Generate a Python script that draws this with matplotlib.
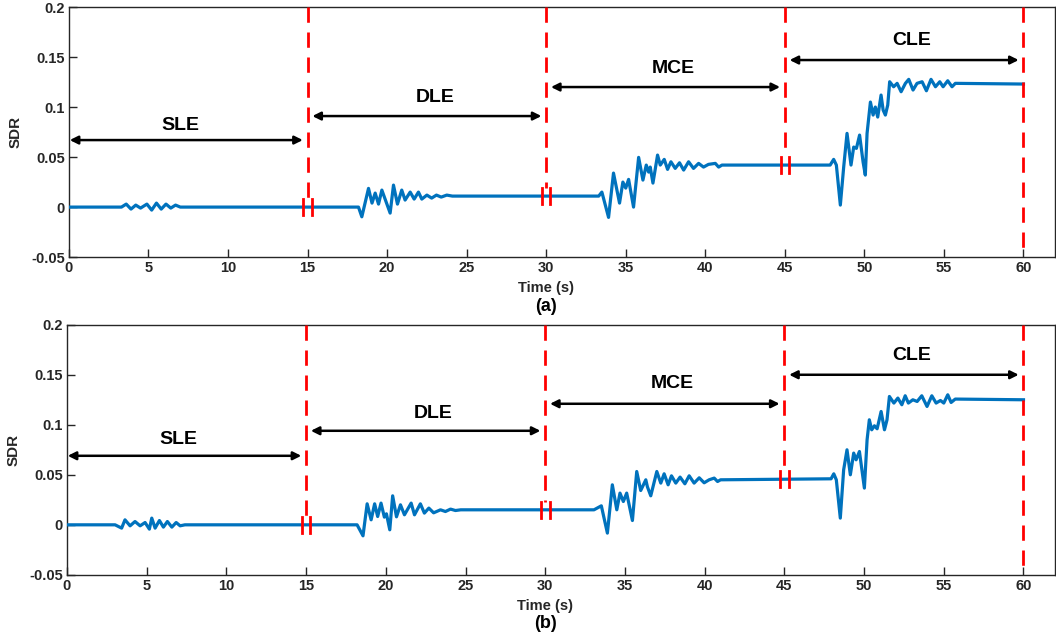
import numpy as np
import matplotlib
matplotlib.use('Agg')
import matplotlib.pyplot as plt

plt.rcParams['font.family'] = ['Liberation Sans', 'DejaVu Sans']
plt.rcParams['font.weight'] = 'bold'

# panel (a) signal
t_a = [0, 3.3, 3.6, 3.9, 4.2, 4.5, 4.9, 5.2, 5.5, 5.8, 6.1, 6.4, 6.7, 7.0,
       18.2, 18.41, 18.83, 19.05, 19.25, 19.46, 19.67, 20.19, 20.4, 20.65, 20.92, 21.13,
       21.45, 21.7, 21.97, 22.18, 22.5, 22.8, 23.1, 23.4, 23.75, 24.1,
       33.3, 33.5, 33.92, 34.23, 34.61, 34.82, 35.0, 35.18, 35.49, 35.81, 36.08, 36.29,
       36.44, 36.54, 36.71, 37.0, 37.17, 37.42, 37.63, 37.84, 38.11, 38.38, 38.64, 38.95,
       39.26, 39.58, 39.89, 40.2, 40.63, 40.84, 41.05,
       47.85, 48.07, 48.24, 48.49, 48.7, 48.91, 49.16, 49.33, 49.5, 49.7, 49.92, 50.06,
       50.17, 50.38, 50.55, 50.69, 50.84, 51.05, 51.18, 51.32, 51.47, 51.59, 51.84, 52.06,
       52.31, 52.58, 52.79, 53.06, 53.31, 53.63, 53.9, 54.19, 54.47, 54.74, 54.95, 55.24,
       55.51, 55.72, 60]
sdr_a = [0, 0, 0.003, -0.002, 0.002, -0.001, 0.003, -0.003, 0.004, -0.002, 0.003, -0.001, 0.002, 0,
         0, -0.0097, 0.0187, 0.004, 0.014, 0.003, 0.017, -0.006, 0.022, 0.003, 0.017, 0.007,
         0.015, 0.008, 0.015, 0.008, 0.012, 0.009, 0.012, 0.010, 0.012, 0.011,
         0.011, 0.015, -0.0103, 0.034, 0.004, 0.025, 0.019, 0.0277, 0.0, 0.0497, 0.027, 0.042,
         0.035, 0.040, 0.024, 0.052, 0.042, 0.0477, 0.0377, 0.0453, 0.0387, 0.0443, 0.037, 0.0453,
         0.0387, 0.0437, 0.040, 0.0427, 0.0437, 0.040, 0.042,
         0.042, 0.0477, 0.042, 0.002, 0.040, 0.0737, 0.042, 0.060, 0.0587, 0.072, 0.045, 0.032,
         0.0737, 0.105, 0.092, 0.100, 0.090, 0.112, 0.097, 0.092, 0.102, 0.1253, 0.1203, 0.1237,
         0.1153, 0.1237, 0.1277, 0.117, 0.1237, 0.1253, 0.1163, 0.1277, 0.1203, 0.1253, 0.1203, 0.1263,
         0.1203, 0.1237, 0.123]

# panel (b) signal
t_b = [0, 3.02, 3.43, 3.64, 3.96, 4.27, 4.59, 4.9, 5.17, 5.32, 5.53, 5.8, 6.05, 6.3, 6.58, 6.85, 7.1, 7.4,
       18.2, 18.57, 18.83, 19.08, 19.3, 19.49, 19.7, 19.91, 20.04, 20.25, 20.43, 20.67, 20.92, 21.17,
       21.59, 21.8, 22.17, 22.42, 22.7, 23.0, 23.43, 23.74, 24.06, 24.37, 24.7,
       33.06, 33.52, 33.9, 34.21, 34.49, 34.69, 34.9, 35.11, 35.47, 35.74, 35.99, 36.31, 36.41,
       36.62, 37.0, 37.25, 37.46, 37.71, 37.92, 38.19, 38.46, 38.76, 39.03, 39.34, 39.66, 39.97,
       40.28, 40.6, 40.81, 41.0,
       47.93, 48.1, 48.26, 48.51, 48.72, 48.93, 49.14, 49.35, 49.5, 49.71, 50.02, 50.19, 50.33,
       50.48, 50.65, 50.82, 51.07, 51.28, 51.44, 51.59, 51.87, 52.12, 52.37, 52.58, 52.78, 53.06,
       53.33, 53.62, 53.95, 54.25, 54.52, 54.79, 55.0, 55.25, 55.46, 55.72, 60]
sdr_b = [0, 0, -0.0033, 0.005, -0.001, 0.0033, -0.001, 0.0023, -0.0043, 0.0067, -0.0033, 0.0043, -0.0023,
         0.0033, -0.0023, 0.0023, -0.001, 0.0,
         0.0, -0.011, 0.021, 0.005, 0.021, 0.0083, 0.0217, 0.0077, 0.011, -0.005, 0.029, 0.008, 0.020, 0.010,
         0.0217, 0.010, 0.021, 0.0117, 0.0167, 0.012, 0.015, 0.0133, 0.0157, 0.0143, 0.015,
         0.015, 0.019, -0.0083, 0.040, 0.015, 0.0317, 0.0233, 0.0317, 0.0043, 0.0533, 0.0343, 0.045, 0.038,
         0.029, 0.0533, 0.0417, 0.051, 0.040, 0.049, 0.0417, 0.0477, 0.041, 0.049, 0.0417, 0.047, 0.042,
         0.045, 0.0467, 0.0433, 0.045,
         0.046, 0.051, 0.045, 0.0067, 0.055, 0.075, 0.050, 0.0717, 0.065, 0.0733, 0.0367, 0.085, 0.105,
         0.095, 0.099, 0.096, 0.1133, 0.095, 0.105, 0.1283, 0.1217, 0.1267, 0.120, 0.129, 0.1217, 0.125,
         0.1233, 0.129, 0.1183, 0.129, 0.1217, 0.1243, 0.1217, 0.130, 0.1223, 0.1257, 0.125]

stage_names = ['SLE', 'DLE', 'MCE', 'CLE']
stage_start = [0, 15, 30, 45]
stage_end = [15, 30, 45, 60]
arrow_y_a = [0.067, 0.091, 0.120, 0.147]
arrow_y_b = [0.069, 0.094, 0.121, 0.150]
label_y_a = [0.082, 0.110, 0.139, 0.167]
label_y_b = [0.085, 0.111, 0.141, 0.169]
label_x = [7, 23, 38, 53]

y_ticks = [-0.05, 0, 0.05, 0.1, 0.15, 0.2]
y_ticklabels = ['-0.05', '0', '0.05', '0.1', '0.15', '0.2']
x_ticks = list(range(0, 61, 5))

blue = '#0072BD'
red = '#FF0000'
txt = '#262626'

fig = plt.figure(figsize=(10.56, 6.38), dpi=100)
ax_a = fig.add_axes([0.0653, 0.597, 0.934, 0.392])
ax_b = fig.add_axes([0.0634, 0.099, 0.936, 0.392])


def draw_panel(ax, t, sdr, arrow_y, label_y, tag):
    ax.plot(t, sdr, color=blue, lw=2.3, zorder=3, solid_joinstyle='round')
    for i in range(4):
        ax.annotate('', xy=(stage_start[i] + 0.05 if i == 0 else stage_start[i] + 0.3, arrow_y[i]),
                    xytext=(stage_end[i] - 0.3, arrow_y[i]),
                    arrowprops=dict(arrowstyle='<|-|>', color='black', lw=1.8,
                                    mutation_scale=12, shrinkA=0, shrinkB=0))
        ax.text(label_x[i], label_y[i], stage_names[i], ha='center', va='center',
                fontsize=14, fontweight='bold', color='black')
    # dashed boundaries with break marks on the signal
    for b in [15, 30, 45]:
        lvl = np.interp(b, t, sdr)
        ax.plot([b, b], [0.2, lvl + 0.008], color=red, lw=2, ls=(0, (5.5, 3.5)), zorder=4)
        for dx in (-0.27, 0.27):
            ax.plot([b + dx, b + dx], [lvl - 0.008, lvl + 0.008], color=red, lw=2, zorder=4)
    ax.plot([60, 60], [0.2, -0.05], color=red, lw=2, ls=(0, (5.5, 3.5)), zorder=4)

    ax.set_xlim(0, 62)
    ax.set_ylim(-0.05, 0.2)
    ax.set_xticks(x_ticks)
    ax.set_yticks(y_ticks)
    ax.set_yticklabels(y_ticklabels)
    ax.tick_params(direction='in', length=6, width=1, labelsize=10.5, colors=txt, pad=3)
    for lab in ax.get_xticklabels() + ax.get_yticklabels():
        lab.set_fontweight('bold')
    for sp in ax.spines.values():
        sp.set_linewidth(1)
        sp.set_color(txt)
    ax.set_ylabel('SDR', fontsize=11, fontweight='bold', color=txt, labelpad=6)
    ax.text(30, -0.081, 'Time (s)', ha='center', va='center', fontsize=10.5,
            fontweight='bold', color=txt, clip_on=False)
    ax.text(30, -0.099, tag, ha='center', va='center', fontsize=13,
            fontweight='bold', color='black', clip_on=False)


draw_panel(ax_a, t_a, sdr_a, arrow_y_a, label_y_a, '(a)')
draw_panel(ax_b, t_b, sdr_b, arrow_y_b, label_y_b, '(b)')

fig.savefig('out.png', dpi=100)
